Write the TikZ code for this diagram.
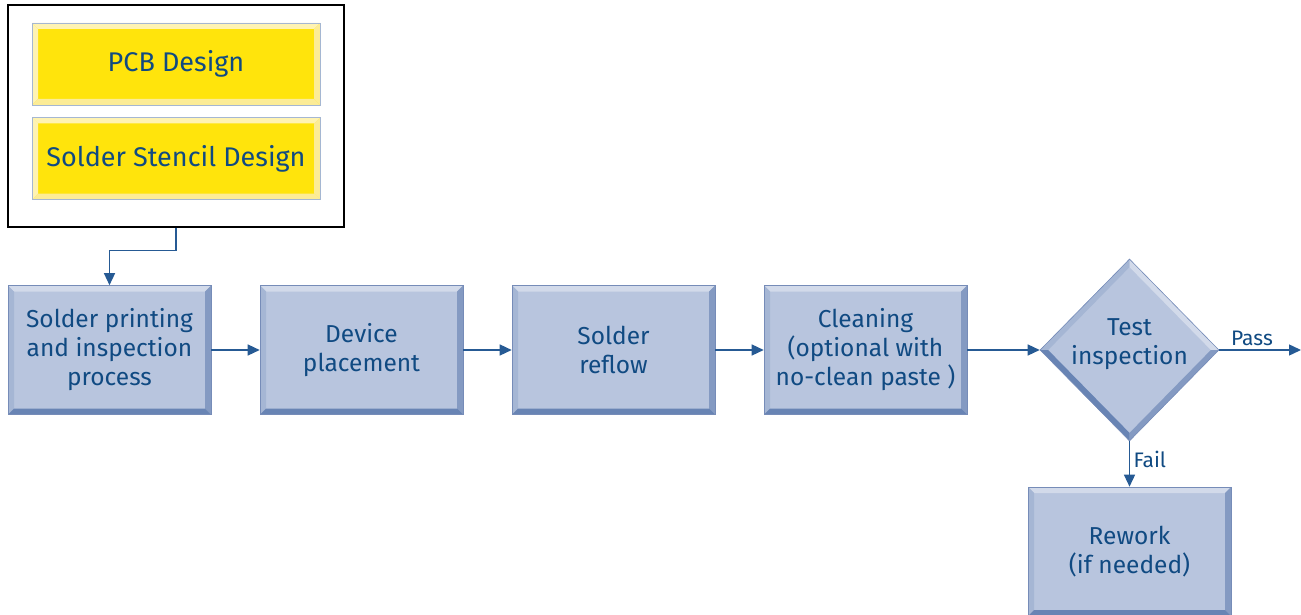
\documentclass[tikz,border=0pt]{standalone}
\usepackage{fontspec}
\setmainfont{Fira Sans}
\usetikzlibrary{shapes.geometric}
\usetikzlibrary{arrows.meta}
\definecolor{inkblue}{RGB}{16, 74, 130}
\definecolor{linkblue}{RGB}{38, 90, 148}
\definecolor{boxblue}{RGB}{184, 197, 222}
\definecolor{bevtop}{RGB}{210, 218, 234}
\definecolor{bevleft}{RGB}{165, 182, 212}
\definecolor{bevright}{RGB}{132, 154, 194}
\definecolor{bevbottom}{RGB}{104, 132, 180}
\definecolor{boxedge}{RGB}{118, 140, 184}
\definecolor{padyellow}{RGB}{255, 228, 12}
\definecolor{padpale}{RGB}{255, 243, 178}
\definecolor{padcream}{RGB}{252, 236, 150}
\definecolor{padedge}{RGB}{165, 183, 210}

% bevelled faces, drawn inside the node's path picture
\newcommand{\bevelrect}[5]{%
  \path (path picture bounding box.north west) coordinate (bnw)
        (path picture bounding box.north east) coordinate (bne)
        (path picture bounding box.south east) coordinate (bse)
        (path picture bounding box.south west) coordinate (bsw)
        ([shift={(#1,-#1)}]bnw) coordinate (inw)
        ([shift={(-#1,-#1)}]bne) coordinate (ine)
        ([shift={(-#1,#1)}]bse) coordinate (ise)
        ([shift={(#1,#1)}]bsw) coordinate (isw);
  \fill[#2] (bnw) -- (bne) -- (ine) -- (inw) -- cycle;
  \fill[#3] (bnw) -- (inw) -- (isw) -- (bsw) -- cycle;
  \fill[#4] (bne) -- (bse) -- (ise) -- (ine) -- cycle;
  \fill[#5] (bsw) -- (isw) -- (ise) -- (bse) -- cycle;}
\newcommand{\beveldiamond}[5]{%
  \path (path picture bounding box.north) coordinate (dn)
        (path picture bounding box.east) coordinate (de)
        (path picture bounding box.south) coordinate (ds)
        (path picture bounding box.west) coordinate (dw)
        ([yshift=-#1]dn) coordinate (idn)
        ([xshift=-#1]de) coordinate (ide)
        ([yshift=#1]ds) coordinate (ids)
        ([xshift=#1]dw) coordinate (idw);
  \fill[#2] (dw) -- (dn) -- (idn) -- (idw) -- cycle;
  \fill[#3] (dn) -- (de) -- (ide) -- (idn) -- cycle;
  \fill[#4] (de) -- (ds) -- (ids) -- (ide) -- cycle;
  \fill[#5] (ds) -- (dw) -- (idw) -- (ids) -- cycle;}

\begin{document}
\begin{tikzpicture}[x=1pt, y=-1pt,
    stepbox/.style={draw=boxedge, line width=0.6pt, fill=boxblue, text=inkblue,
        minimum width=203pt, minimum height=129pt, inner sep=0pt, align=center,
        font=\fontsize{24.5}{29}\selectfont,
        path picture={\bevelrect{6pt}{bevtop}{bevleft}{bevright}{bevbottom}}},
    testbox/.style={diamond, aspect=1, draw=boxedge, line width=0.6pt, fill=boxblue,
        minimum width=179pt, minimum height=182pt, inner sep=0pt,
        path picture={\beveldiamond{8pt}{bevleft}{bevtop}{bevright}{bevbottom}}},
    padbox/.style={draw=padedge, line width=0.8pt, fill=padyellow, text=inkblue,
        minimum width=288pt, minimum height=82pt, inner sep=0pt,
        font=\fontsize{27}{32}\selectfont,
        path picture={\bevelrect{6pt}{padpale}{padpale}{padcream}{padcream}}},
    flow/.style={draw=linkblue, line width=1.4pt,
        -{Triangle[length=12pt, width=11pt]}},
    tag/.style={text=inkblue, font=\fontsize{21}{25}\selectfont}]

  \useasboundingbox (0,0) rectangle (1301,615);

  % design inputs
  \node[draw=black, line width=1.3pt, minimum width=336pt, minimum height=222pt] (design) at (176,116) {};
  \node[padbox] (pcb) at (176,64) {PCB Design};
  \node[padbox] (stencil) at (176,158.5) {Solder Stencil Design};

  % process line
  \node[stepbox] (printing) at (109.5,350) {Solder printing\\and inspection\\process};
  \node[stepbox] (placement) at (361.5,350) {Device\\placement};
  \node[stepbox] (reflow) at (613.5,350) {Solder\\reflow};
  \node[stepbox] (cleaning) at (865.5,350) {Cleaning\\(optional with\\no-clean paste )};
  \node[testbox, label={[text=inkblue, align=center, yshift=6pt,
        font=\fontsize{24.5}{29}\selectfont]center:Test\\inspection}] (test) at (1129.5,350) {};
  \node[stepbox] (rework) at (1129.5,551.5) {Rework\\(if needed)};
  \coordinate (passout) at (1301,350);

  \draw[flow] (design.south) -- ++(0,23) -| (printing.north);
  \draw[flow] (printing.east) -- (placement.west);
  \draw[flow] (placement.east) -- (reflow.west);
  \draw[flow] (reflow.east) -- (cleaning.west);
  \draw[flow] (cleaning.east) -- (test.west);
  \draw[flow] (test.east) -- node[tag, above, pos=0.4] {Pass} (passout);
  \draw[flow] (test.south) -- node[tag, right, pos=0.4] {Fail} (rework.north);
\end{tikzpicture}
\end{document}
